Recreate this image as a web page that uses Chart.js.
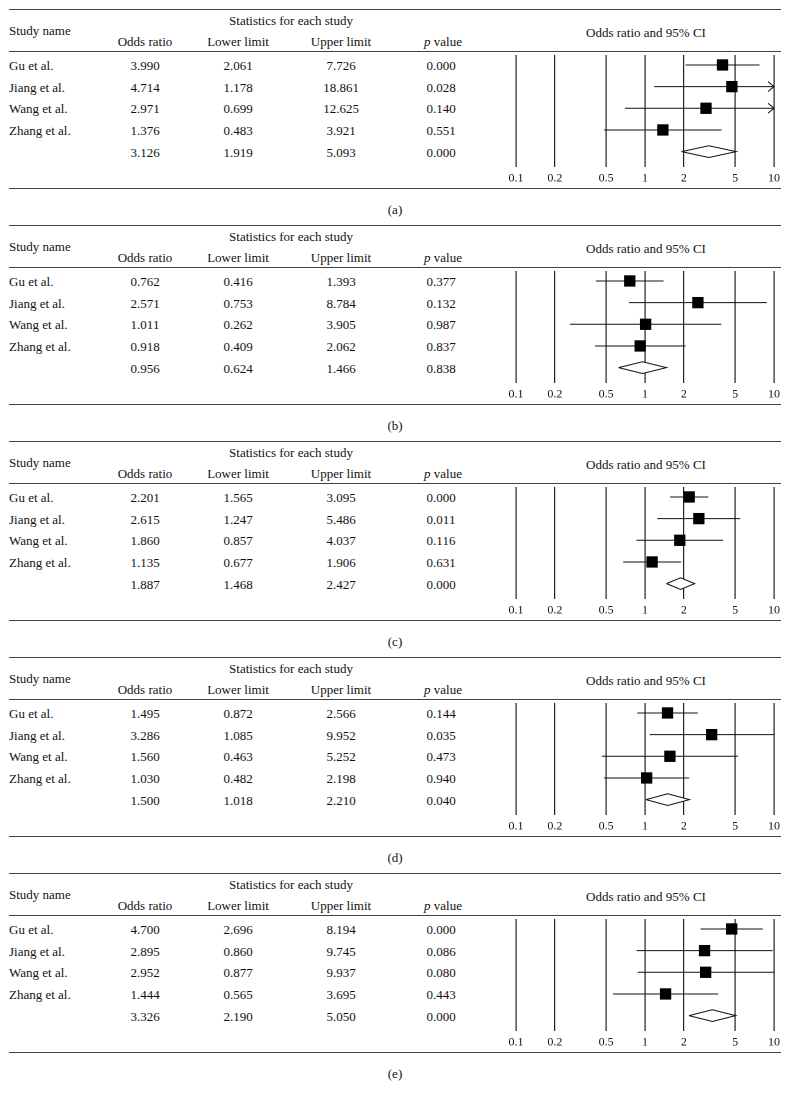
<!DOCTYPE html>
<html>
<head>
<meta charset="utf-8">
<script src="https://cdn.jsdelivr.net/npm/chart.js@4.4.0/dist/chart.umd.min.js"></script>
<style>
  body { margin: 0; width: 790px; height: 1098px; background: #fff; position: relative; overflow: hidden;
         font-family: "Liberation Serif", serif; font-size: 13px; color: #111; }
  .panel { position: absolute; left: 0; width: 790px; height: 216px; }
  .t { position: absolute; white-space: nowrap; line-height: 1; transform: translate(-50%, -50%); }
  .t.left { transform: translate(0, -50%); }
  .rule { position: absolute; left: 9px; width: 772px; height: 1.5px; background: #444; }
  canvas { position: absolute; }
</style>
</head>
<body>
<script>
const studies = ["Gu et al.", "Jiang et al.", "Wang et al.", "Zhang et al.", ""];
const captions = ["(a)", "(b)", "(c)", "(d)", "(e)"];
const tickValues = [0.1, 0.2, 0.5, 1, 2, 5, 10];
const tickLabels = ["0.1", "0.2", "0.5", "1", "2", "5", "10"];

// (a)
const oddsA = [3.990, 4.714, 2.971, 1.376, 3.126];
const lowerA = [2.061, 1.178, 0.699, 0.483, 1.919];
const upperA = [7.726, 18.861, 12.625, 3.921, 5.093];
const pA = [0.000, 0.028, 0.140, 0.551, 0.000];
// (b)
const oddsB = [0.762, 2.571, 1.011, 0.918, 0.956];
const lowerB = [0.416, 0.753, 0.262, 0.409, 0.624];
const upperB = [1.393, 8.784, 3.905, 2.062, 1.466];
const pB = [0.377, 0.132, 0.987, 0.837, 0.838];
// (c)
const oddsC = [2.201, 2.615, 1.860, 1.135, 1.887];
const lowerC = [1.565, 1.247, 0.857, 0.677, 1.468];
const upperC = [3.095, 5.486, 4.037, 1.906, 2.427];
const pC = [0.000, 0.011, 0.116, 0.631, 0.000];
// (d)
const oddsD = [1.495, 3.286, 1.560, 1.030, 1.500];
const lowerD = [0.872, 1.085, 0.463, 0.482, 1.018];
const upperD = [2.566, 9.952, 5.252, 2.198, 2.210];
const pD = [0.144, 0.035, 0.473, 0.940, 0.040];
// (e)
const oddsE = [4.700, 2.895, 2.952, 1.444, 3.326];
const lowerE = [2.696, 0.860, 0.877, 0.565, 2.190];
const upperE = [8.194, 9.745, 9.937, 3.695, 5.050];
const pE = [0.000, 0.086, 0.080, 0.443, 0.000];

const panels = [
  { odds: oddsA, lower: lowerA, upper: upperA, p: pA },
  { odds: oddsB, lower: lowerB, upper: upperB, p: pB },
  { odds: oddsC, lower: lowerC, upper: upperC, p: pC },
  { odds: oddsD, lower: lowerD, upper: upperD, p: pD },
  { odds: oddsE, lower: lowerE, upper: upperE, p: pE },
];

const PANEL_H = 216;
const ROW0 = 65, ROW_STEP = 21.67;
const colX = [145, 238, 341, 441];

function addText(parent, html, x, y, left) {
  const d = document.createElement("div");
  d.className = "t" + (left ? " left" : "");
  d.style.left = x + "px";
  d.style.top = y + "px";
  d.innerHTML = html;
  parent.appendChild(d);
}

function addRule(parent, y) {
  const d = document.createElement("div");
  d.className = "rule";
  d.style.top = y + "px";
  parent.appendChild(d);
}

// open arrowhead where a CI runs past the right edge of the axis
const arrowPlugin = {
  id: "arrows",
  afterDatasetsDraw(chart) {
    const upper = chart.options.plugins.arrows.upper;
    const xs = chart.scales.x, ys = chart.scales.y;
    const ctx = chart.ctx;
    ctx.save();
    ctx.strokeStyle = "#111";
    ctx.lineWidth = 1;
    upper.forEach((u, i) => {
      if (i > 3 || u <= xs.max) return;
      const px = xs.getPixelForValue(xs.max);
      const py = ys.getPixelForValue(i);
      ctx.beginPath();
      ctx.moveTo(px - 6, py - 5);
      ctx.lineTo(px, py);
      ctx.lineTo(px - 6, py + 5);
      ctx.stroke();
    });
    ctx.restore();
  },
};

panels.forEach((pd, k) => {
  const el = document.createElement("div");
  el.className = "panel";
  el.style.top = k * PANEL_H + "px";
  document.body.appendChild(el);

  addRule(el, 8.5);
  addRule(el, 50.5);
  addRule(el, 187.5);

  addText(el, "Statistics for each study", 291, 20);
  addText(el, "Study name", 9, 30, true);
  addText(el, "Odds ratio", colX[0], 41);
  addText(el, "Lower limit", colX[1], 41);
  addText(el, "Upper limit", colX[2], 41);
  addText(el, "<i>p</i> value", 443, 41);
  addText(el, "Odds ratio and 95% CI", 646, 32);

  for (let i = 0; i < 5; i++) {
    const y = ROW0 + ROW_STEP * i;
    if (studies[i]) addText(el, studies[i], 9, y, true);
    addText(el, pd.odds[i].toFixed(3), colX[0], y);
    addText(el, pd.lower[i].toFixed(3), colX[1], y);
    addText(el, pd.upper[i].toFixed(3), colX[2], y);
    addText(el, pd.p[i].toFixed(3), colX[3], y);
  }
  addText(el, captions[k], 395, 209);

  const canvas = document.createElement("canvas");
  canvas.style.left = "500px";
  canvas.style.top = "45px";
  canvas.style.width = "290px";
  canvas.style.height = "145px";
  canvas.width = 290;
  canvas.height = 145;
  el.appendChild(canvas);

  const datasets = [];
  // study squares
  datasets.push({
    type: "scatter",
    data: [0, 1, 2, 3].map((i) => ({ x: pd.odds[i], y: i })),
    pointStyle: "rect",
    pointRadius: 8,
    backgroundColor: "#000",
    borderColor: "#000",
    borderWidth: 0,
  });
  // confidence intervals
  [0, 1, 2, 3].forEach((i) => {
    datasets.push({
      type: "line",
      data: [{ x: pd.lower[i], y: i }, { x: pd.upper[i], y: i }],
      borderColor: "#111",
      borderWidth: 1,
      pointRadius: 0,
      fill: false,
    });
  });
  // pooled estimate diamond
  datasets.push({
    type: "line",
    data: [
      { x: pd.lower[4], y: 4 },
      { x: pd.odds[4], y: 3.73 },
      { x: pd.upper[4], y: 4 },
      { x: pd.odds[4], y: 4.27 },
      { x: pd.lower[4], y: 4 },
    ],
    borderColor: "#111",
    borderWidth: 1,
    backgroundColor: "#fff",
    pointRadius: 0,
    fill: "shape",
    tension: 0,
  });

  new Chart(canvas.getContext("2d"), {
    type: "scatter",
    data: { datasets: datasets },
    plugins: [arrowPlugin],
    options: {
      responsive: false,
      animation: false,
      devicePixelRatio: 2,
      layout: { padding: { left: 16, right: 16, top: 10, bottom: 3 } },
      plugins: {
        legend: { display: false },
        tooltip: { enabled: false },
        arrows: { upper: pd.upper },
      },
      scales: {
        x: {
          type: "logarithmic",
          min: 0.1,
          max: 10,
          afterBuildTicks: (s) => {
            s.ticks = tickValues.map((v) => ({ value: v }));
          },
          afterFit: (s) => {
            s.height = 20;
          },
          ticks: {
            callback: (v, i) => tickLabels[i],
            font: { family: "Liberation Serif", size: 12 },
            color: "#111",
            padding: 4,
            maxRotation: 0,
            autoSkip: false,
          },
          grid: { color: "#222", lineWidth: 1.2, drawTicks: false },
          border: { display: false },
        },
        y: {
          type: "linear",
          min: -0.46,
          max: 4.71,
          reverse: true,
          display: false,
        },
      },
    },
  });
});
</script>
</body>
</html>
